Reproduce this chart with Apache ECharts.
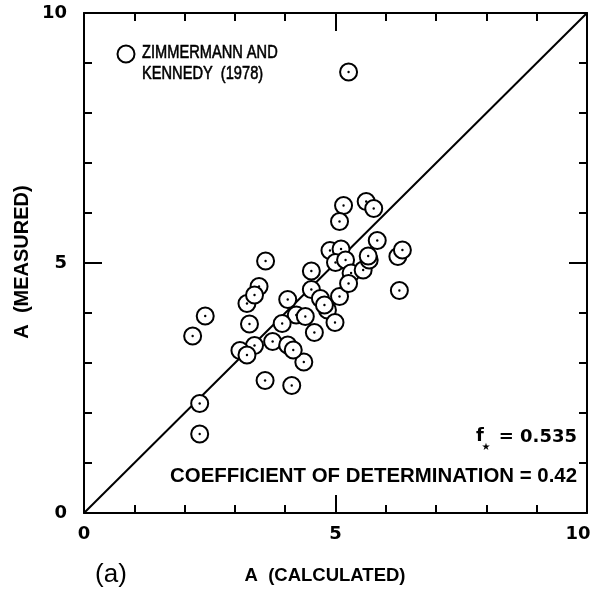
<!DOCTYPE html>
<html>
<head>
<meta charset="utf-8">
<script src="https://cdn.jsdelivr.net/npm/echarts@6/dist/echarts.min.js"></script>
<style>
  html, body { margin: 0; padding: 0; background: #fff; }
  #chart { width: 598px; height: 596px; }
</style>
</head>
<body>
<div id="chart"></div>
<script>
// Calculated vs. measured A, Zimmermann and Kennedy (1978)
const calculated = [
  2.30, 2.30, 3.60, 4.13, 4.37, 2.41, 2.16, 3.24, 3.29, 4.05,
  4.22, 4.40, 4.58, 4.84, 4.99, 3.94, 3.75, 3.39, 3.10, 3.24,
  4.05, 4.16, 3.61, 3.48, 3.39, 4.52, 4.52, 4.70, 4.78, 5.08,
  4.89, 5.11, 5.00, 5.20, 5.31, 5.26, 5.55, 5.67, 5.65, 5.83,
  6.24, 6.33, 6.27, 5.16, 5.08, 5.61, 5.76, 5.26
];
const measured = [
  2.19, 1.58, 2.65, 2.55, 3.02, 3.94, 3.54, 4.19, 3.78, 4.27,
  3.96, 3.93, 3.61, 4.06, 3.81, 3.79, 3.43, 3.35, 3.25, 3.16,
  3.36, 3.26, 5.04, 4.53, 4.36, 4.84, 4.47, 4.29, 4.16, 4.33,
  5.25, 5.28, 5.01, 5.06, 4.80, 4.59, 4.86, 5.06, 5.14, 5.45,
  5.13, 5.26, 4.45, 6.15, 5.83, 6.23, 6.09, 8.82
];
// 1:1 line
const identityLine = [[0, 0], [10, 10]];
const axisMin = 0, axisMax = 10, axisStep = 5;

const points = calculated.map((x, i) => [x, measured[i]]);

const SANS = 'Liberation Sans, Arial, sans-serif';
const WIDE = 'DejaVu Sans, sans-serif';

const tickAxis = {
  min: axisMin, max: axisMax, interval: axisStep,
  axisLine: { show: true, onZero: false, lineStyle: { color: '#000', width: 2 } },
  axisTick: { show: true, inside: true, length: 18, lineStyle: { color: '#000', width: 2 } },
  minorTick: { show: true, splitNumber: 5, length: 8, lineStyle: { color: '#000', width: 2 } },
  splitLine: { show: false },
  minorSplitLine: { show: false }
};

const tickLabel = { color: '#000', fontFamily: WIDE, fontWeight: 'bold', fontSize: 18 };

const chart = echarts.init(document.getElementById('chart'));
chart.setOption({
  backgroundColor: '#fff',
  animation: false,
  grid: { left: 84, right: 11, top: 13, bottom: 83, containLabel: false, outerBoundsMode: 'none' },
  xAxis: [
    Object.assign({}, tickAxis, {
      type: 'value', position: 'bottom',
      axisLabel: Object.assign({
        margin: 12,
        // last label sits a little inside the right edge
        formatter: function (v) { return v === axisMax ? '{last|' + v + '}' : String(v); },
        rich: { last: Object.assign({ padding: [0, 18, 0, 0] }, tickLabel) }
      }, tickLabel)
    }),
    Object.assign({}, tickAxis, { type: 'value', position: 'top', axisLabel: { show: false } })
  ],
  yAxis: [
    Object.assign({}, tickAxis, {
      type: 'value', position: 'left',
      axisLabel: Object.assign({ margin: 17 }, tickLabel)
    }),
    Object.assign({}, tickAxis, { type: 'value', position: 'right', axisLabel: { show: false } })
  ],
  series: [
    {
      type: 'line',
      data: identityLine,
      symbol: 'none',
      lineStyle: { color: '#000', width: 2 },
      z: 1
    },
    {
      type: 'custom',
      data: points,
      z: 3,
      renderItem: function (params, api) {
        const p = api.coord([api.value(0), api.value(1)]);
        return {
          type: 'group',
          children: [
            { type: 'circle', shape: { cx: p[0], cy: p[1], r: 8.5 },
              style: { fill: '#fff', stroke: '#000', lineWidth: 2 } },
            { type: 'circle', shape: { cx: p[0], cy: p[1], r: 1.2 },
              style: { fill: '#000' } }
          ]
        };
      }
    }
  ],
  graphic: [
    { type: 'circle', shape: { cx: 126, cy: 54, r: 8.5 },
      style: { fill: '#fff', stroke: '#000', lineWidth: 2 }, z: 10 },
    { type: 'text', x: 142, y: 53, scaleX: 0.77, z: 10,
      style: { text: 'ZIMMERMANN AND', x: 0, y: 0, font: '19px ' + SANS, fill: '#000',
               stroke: '#000', lineWidth: 0.6,
               textAlign: 'left', textVerticalAlign: 'middle' } },
    { type: 'text', x: 142, y: 74, scaleX: 0.77, z: 10,
      style: { text: 'KENNEDY  (1978)', x: 0, y: 0, font: '19px ' + SANS, fill: '#000',
               stroke: '#000', lineWidth: 0.6,
               textAlign: 'left', textVerticalAlign: 'middle' } },
    { type: 'text', z: 10,
      style: { text: 'f', x: 476, y: 436, font: 'bold 18px ' + WIDE, fill: '#000',
               textAlign: 'left', textVerticalAlign: 'middle' } },
    { type: 'text', z: 10,
      style: { text: '★', x: 486, y: 447, font: 'bold 10px ' + WIDE, fill: '#000',
               textAlign: 'center', textVerticalAlign: 'middle' } },
    { type: 'text', z: 10,
      style: { text: '= 0.535', x: 577, y: 437, font: 'bold 18px ' + WIDE, fill: '#000',
               textAlign: 'right', textVerticalAlign: 'middle' } },
    { type: 'text', z: 10,
      style: { text: 'COEFFICIENT OF DETERMINATION = 0.42', x: 577, y: 476,
               font: 'bold 20.4px ' + SANS, fill: '#000',
               textAlign: 'right', textVerticalAlign: 'middle' } },
    { type: 'text', z: 10,
      style: { text: 'A  (CALCULATED)', x: 325, y: 576, font: 'bold 18.5px ' + SANS, fill: '#000',
               textAlign: 'center', textVerticalAlign: 'middle' } },
    { type: 'text', z: 10,
      style: { text: '(a)', x: 111, y: 575, font: '26px ' + SANS, fill: '#000',
               textAlign: 'center', textVerticalAlign: 'middle' } },
    { type: 'text', z: 10, x: 22, y: 262, rotation: Math.PI / 2,
      style: { text: 'A  (MEASURED)', x: 0, y: 0, font: 'bold 20px ' + SANS, fill: '#000',
               textAlign: 'center', textVerticalAlign: 'middle' } }
  ]
});
</script>
</body>
</html>
